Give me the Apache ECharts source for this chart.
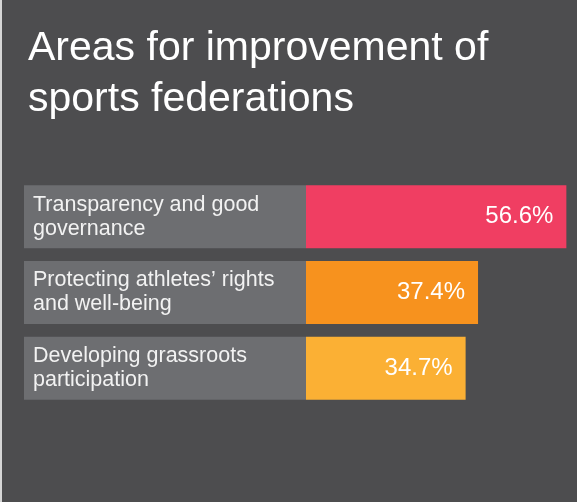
<!DOCTYPE html>
<html>
<head>
<meta charset="utf-8">
<script src="https://cdn.jsdelivr.net/npm/echarts@6/dist/echarts.min.js"></script>
<style>
  html, body {
    margin: 0;
    padding: 0;
    background: #4d4d4f;
  }
  #main {
    width: 577px;
    height: 502px;
  }
</style>
</head>
<body>
<div id="main"></div>
<script>
// categories, top to bottom
const categories = [
  'Transparency and good\ngovernance',
  'Protecting athletes\u2019 rights\nand well-being',
  'Developing grassroots\nparticipation'
]
// share of respondents, %
const values = [56.6, 37.4, 34.7]
const barColors = ['#f03e62', '#f7921e', '#fbb034']

let myChart = echarts.init(document.getElementById('main'))

const options = {
  backgroundColor: '#4d4d4f',
  textStyle: {
    fontFamily: 'Liberation Sans, Arial, sans-serif'
  },
  title: {
    text: 'Areas for improvement of\nsports federations',
    left: 28,
    top: 23,
    padding: 0,
    textStyle: {
      color: '#ffffff',
      fontSize: 41,
      fontWeight: 'normal',
      lineHeight: 51,
      fontFamily: 'Liberation Sans, Arial, sans-serif'
    }
  },
  graphic: [
    {
      // thin light strip on the left edge
      type: 'rect',
      left: 0,
      top: 0,
      shape: { width: 2, height: 502 },
      style: { fill: '#d6d6d6' }
    }
  ],
  grid: {
    left: 306,
    top: 179,
    width: 276,
    height: 227,
    outerBoundsMode: 'none'
  },
  xAxis: {
    type: 'value',
    min: 0,
    max: 60,
    show: false
  },
  yAxis: {
    type: 'category',
    inverse: true,
    data: categories,
    axisLine: { show: false },
    axisTick: { show: false },
    axisLabel: {
      align: 'left',
      margin: 282,
      width: 273,
      padding: [7.5, 0, 7.5, 9],
      lineHeight: 24,
      fontSize: 21.5,
      color: '#f2f2f2',
      backgroundColor: '#6d6e71',
      fontFamily: 'Liberation Sans, Arial, sans-serif'
    }
  },
  series: [
    {
      type: 'bar',
      barWidth: 63,
      data: values.map((v, i) => ({
        value: v,
        itemStyle: { color: barColors[i] }
      })),
      label: {
        show: true,
        position: 'insideRight',
        distance: 13,
        formatter: '{c}%',
        color: '#ffffff',
        fontSize: 24,
        fontFamily: 'Liberation Sans, Arial, sans-serif'
      },
      silent: true
    }
  ]
}

myChart.setOption(options)
</script>
</body>
</html>
